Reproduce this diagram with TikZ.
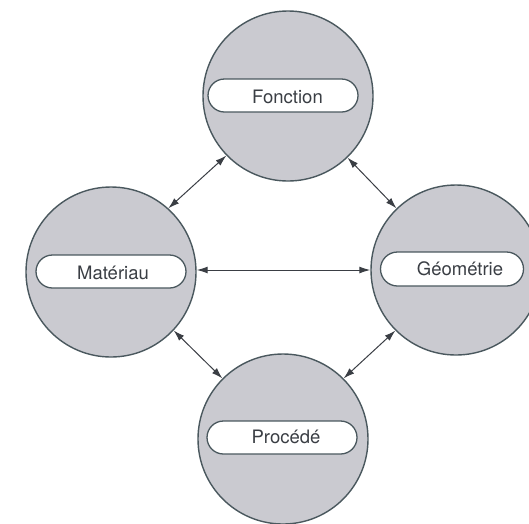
\documentclass[tikz,border=0pt]{standalone}
\usepackage{fontspec}
\setmainfont{TeX Gyre Heros}
\usetikzlibrary{shapes.misc,arrows.meta}
\definecolor{blobfill}{RGB}{202,202,208}
\definecolor{edgecol}{RGB}{74,88,94}
\definecolor{inkcol}{RGB}{58,62,68}
\begin{document}
\begin{tikzpicture}[x=1pt,y=-1pt,
  blob/.style={circle,draw=edgecol,fill=blobfill,line width=1.4pt,minimum size=170pt,inner sep=0pt},
  pill/.style={rounded rectangle,draw=edgecol,fill=white,line width=1.3pt,minimum height=33pt,minimum width=150pt,inner sep=0pt},
  lbl/.style={font=\fontsize{18.5}{20}\selectfont,text=inkcol,inner sep=0pt,anchor=base},
  link/.style={draw=inkcol,line width=1pt,{Latex[length=11pt,width=7pt]}-{Latex[length=11pt,width=7pt]}}]
\useasboundingbox (0,0) rectangle (529,523);
\clip (0,0) rectangle (529,523);
% circles
\node[blob] (T) at (288,96) {};
\node[blob] (L) at (111,272) {};
\node[blob] (R) at (456,270) {};
\node[blob] (B) at (283,439) {};
% pills
\node[pill] (Tp) at (283,95.5) {};
\node[pill] (Lp) at (111,271.5) {};
\node[pill,minimum width=143pt,minimum height=34pt] (Rp) at (452,269) {};
\node[pill] (Bp) at (282,437.5) {};
% labels
\node[lbl] (Tt) at (287.5,103) {Fonction};
\node[lbl] (Lt) at (113,279) {Matériau};
\node[lbl] (Rt) at (460,275) {Géométrie};
\node[lbl] (Bt) at (286,443.5) {Procédé};
% connectors
\draw[link] (L.48) -- (T.224);
\draw[link] (T.314) -- (R.134);
\draw[link] (L.east |- R.west) -- (R.west);
\draw[link] (L.317) -- (B.135);
\draw[link] (B.45) -- (R.225);
\end{tikzpicture}
\end{document}
